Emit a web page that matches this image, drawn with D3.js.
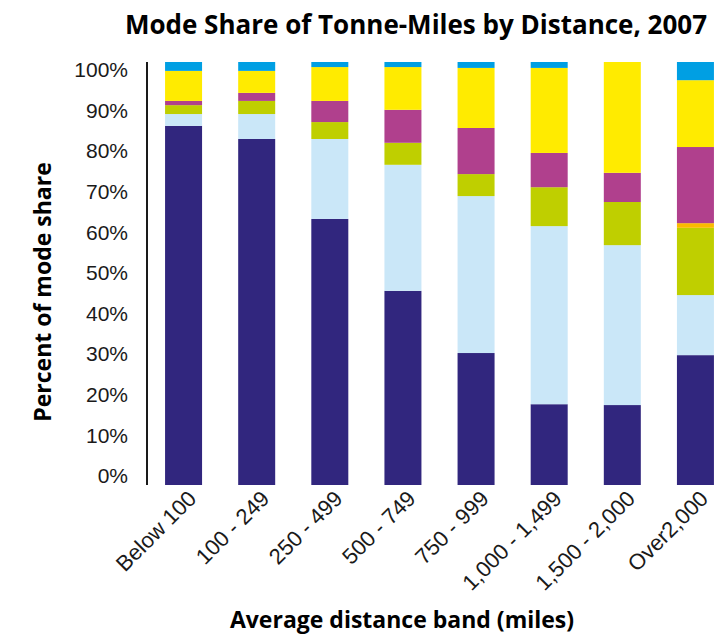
<!DOCTYPE html>
<html>
<head>
<meta charset="utf-8">
<script src="https://cdn.jsdelivr.net/npm/d3@7"></script>
<style>
  html, body { margin: 0; padding: 0; background: #fff; }
  svg { display: block; font-family: "Open Sans", "Liberation Sans", sans-serif; }
</style>
</head>
<body>
<svg id="chart" width="722" height="639"></svg>
<script>
// Distance bands (x categories)
const bands = ["Below 100", "100 - 249", "250 - 499", "500 - 749", "750 - 999",
               "1,000 - 1,499", "1,500 - 2,000", "Over2,000"];

// Mode shares in percent, stacked bottom to top
const truck     = [84.9, 81.8, 62.9, 45.9, 31.2, 19.1, 18.9, 30.7];
const rail      = [ 2.8,  5.9, 18.9, 29.8, 37.1, 42.1, 37.8, 14.2];
const water     = [ 2.1,  3.1,  4.0,  5.2,  5.2,  9.2, 10.2, 15.9];
const air       = [ 0.0,  0.0,  0.0,  0.0,  0.0,  0.0,  0.0,  1.1];
const pipeline  = [ 1.0,  1.9,  5.0,  7.8, 10.9,  8.1,  6.9, 18.0];
const multiple  = [ 7.1,  5.2,  8.0, 10.1, 14.2, 20.1, 26.2, 15.8];
const other     = [ 2.1,  2.1,  1.2,  1.2,  1.4,  1.4,  0.0,  4.3];

const yTicks = [0, 10, 20, 30, 40, 50, 60, 70, 80, 90, 100];

const seriesKeys = ["truck", "rail", "water", "air", "pipeline", "multiple", "other"];
const seriesColors = ["#31267e", "#cae7f8", "#bfcf00", "#fbba00", "#b0408d", "#ffeb00", "#009fe3"];
const seriesValues = [truck, rail, water, air, pipeline, multiple, other];

const rows = bands.map((b, i) => {
  const r = { band: b };
  seriesKeys.forEach((k, j) => { r[k] = seriesValues[j][i]; });
  return r;
});

const svg = d3.select("#chart");

const x = d3.scaleBand()
  .domain(bands)
  .range([147, 732])
  .paddingInner(0.494)
  .paddingOuter(0.247);

// Plot area scale for the bars
const y = d3.scaleLinear()
  .domain([0, 100])
  .range([485, 62]);

// Tick labels are laid out on a slightly tighter band inside the plot area
const yLabel = d3.scaleLinear()
  .domain([0, 100])
  .range([476, 70]);

const stack = d3.stack().keys(seriesKeys);
const layers = stack(rows);

// Stacked bars
svg.append("g")
  .selectAll("g")
  .data(layers)
  .join("g")
    .attr("fill", (d, i) => seriesColors[i])
  .selectAll("rect")
  .data(d => d)
  .join("rect")
    .attr("x", d => x(d.data.band))
    .attr("width", x.bandwidth())
    .attr("y", d => y(d[1]))
    .attr("height", d => Math.max(0, y(d[0]) - y(d[1])));

// Y axis line
svg.append("line")
  .attr("x1", 147).attr("x2", 147)
  .attr("y1", y(100)).attr("y2", y(0))
  .attr("stroke", "#1a1a1a")
  .attr("stroke-width", 2);

// Y tick labels
const gy = svg.append("g")
  .attr("transform", "translate(147,0)")
  .call(d3.axisLeft(yLabel)
    .tickValues(yTicks)
    .tickFormat(d => d + "%")
    .tickSize(0)
    .tickPadding(19));
gy.select(".domain").remove();
gy.selectAll("text")
  .attr("fill", "#1a1a1a")
  .style("font-size", "21px");

// X axis labels (rotated)
const gx = svg.append("g")
  .attr("transform", `translate(0,${y(0)})`)
  .call(d3.axisBottom(x).tickSize(0).tickPadding(0));
gx.select(".domain").remove();
gx.selectAll("text")
  .attr("fill", "#1a1a1a")
  .style("font-size", "22px")
  .attr("text-anchor", "end")
  .attr("dy", 0)
  .attr("transform", "translate(14,15) rotate(-45)");

// Titles
svg.append("text")
  .attr("x", 416)
  .attr("y", 34)
  .attr("text-anchor", "middle")
  .style("font-size", "26px")
  .style("font-weight", "bold")
  .attr("fill", "#000")
  .text("Mode Share of Tonne-Miles by Distance, 2007");

svg.append("text")
  .attr("x", 402)
  .attr("y", 628)
  .attr("text-anchor", "middle")
  .style("font-size", "23px")
  .style("font-weight", "bold")
  .attr("fill", "#000")
  .text("Average distance band (miles)");

svg.append("text")
  .attr("transform", "translate(51,292) rotate(-90)")
  .attr("text-anchor", "middle")
  .style("font-size", "23px")
  .style("font-weight", "bold")
  .attr("fill", "#000")
  .text("Percent of mode share");
</script>
</body>
</html>
